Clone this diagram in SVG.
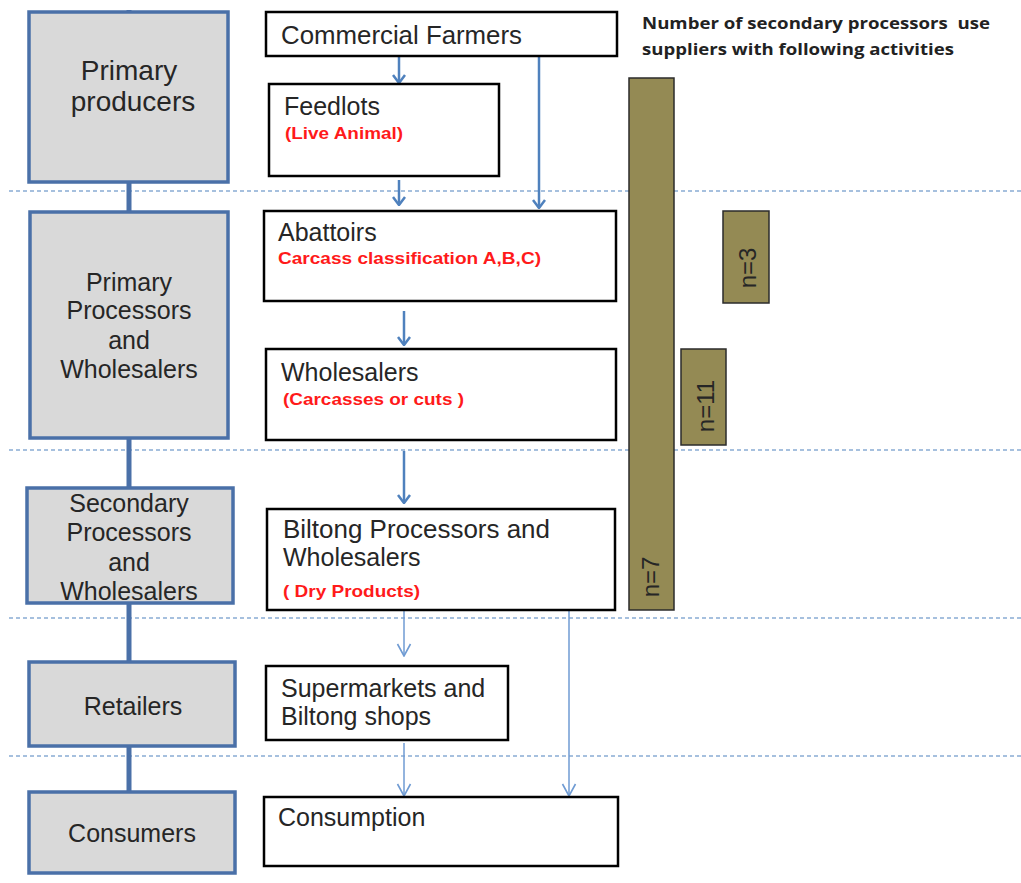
<svg xmlns="http://www.w3.org/2000/svg" width="1021" height="883" viewBox="0 0 1021 883">
  <defs>
    <style>
      .stage { fill: #d9d9d9; stroke: #4a70a8; stroke-width: 3.5; }
      .box { fill: #ffffff; stroke: #000000; stroke-width: 2.5; }
      .bar { fill: #948a54; stroke: #2b2b2b; stroke-width: 1.5; }
      .sep { stroke: #4f81bd; stroke-width: 1.2; stroke-dasharray: 4 3; fill: none; }
      .spine { stroke: #4a70a8; stroke-width: 5; fill: none; }
      .flow { stroke: #4f81bd; stroke-width: 2.5; fill: none; marker-end: url(#chev); }
      .flow-thin { stroke: #6f9bd3; stroke-width: 1.5; fill: none; marker-end: url(#chev-thin); }
      .t { font-family: "Liberation Sans", Arial, sans-serif; fill: #262626; font-size: 25px; }
      .mid { text-anchor: middle; }
      .big { font-size: 28px; }
      .note { font-family: "Liberation Sans", Arial, sans-serif; font-weight: bold; font-size: 17px; fill: #ff1a1a; }
      .head { font-family: "Open Sans", "Liberation Sans", sans-serif; font-weight: bold; font-size: 15.5px; fill: #222222; white-space: pre; }
      .n { font-size: 24px; text-anchor: middle; }
    </style>
    <!-- open chevron heads, drawn along +x so orient="auto" turns them with the line -->
    <marker id="chev" viewBox="0 0 12 14" refX="11" refY="7" markerWidth="12" markerHeight="14" markerUnits="userSpaceOnUse" orient="auto">
      <path d="M3,1 L11,7 L3,13" fill="none" stroke="#4f81bd" stroke-width="2.5"/>
    </marker>
    <marker id="chev-thin" viewBox="0 0 15 16" refX="14" refY="8" markerWidth="15" markerHeight="16" markerUnits="userSpaceOnUse" orient="auto">
      <path d="M2,1.5 L14,8 L2,14.5" fill="none" stroke="#6f9bd3" stroke-width="1.6"/>
    </marker>
  </defs>

  <rect width="1021" height="883" fill="#ffffff"/>

  <!-- stage separators -->
  <g id="separators">
    <line class="sep" x1="9" y1="191" x2="1021" y2="191"/>
    <line class="sep" x1="9" y1="450" x2="1021" y2="450"/>
    <line class="sep" x1="9" y1="618" x2="1021" y2="618"/>
    <line class="sep" x1="9" y1="756" x2="1021" y2="756"/>
  </g>

  <!-- connectors -->
  <g id="connectors">
    <line class="spine" x1="129" y1="10" x2="129" y2="792"/>
    <line class="flow" x1="399" y1="57" x2="399" y2="83"/>
    <line class="flow" x1="399" y1="180" x2="399" y2="205"/>
    <line class="flow" x1="539" y1="57" x2="539" y2="208"/>
    <line class="flow" x1="404" y1="311" x2="404" y2="345"/>
    <line class="flow" x1="404" y1="451" x2="404" y2="503"/>
    <line class="flow-thin" x1="404" y1="611" x2="404" y2="656"/>
    <line class="flow-thin" x1="404" y1="743" x2="404" y2="796"/>
    <line class="flow-thin" x1="569" y1="608" x2="569" y2="796"/>
  </g>

  <!-- left column: chain stages -->
  <g id="stage-primary-producers">
    <rect class="stage" x="29" y="12" width="199" height="170"/>
    <text class="t mid big" x="129" y="80">Primary</text>
    <text class="t mid big" x="133" y="111">producers</text>
  </g>
  <g id="stage-primary-processors">
    <rect class="stage" x="30" y="212" width="198" height="226"/>
    <text class="t mid" x="129" y="291">Primary</text>
    <text class="t mid" x="129" y="319">Processors</text>
    <text class="t mid" x="129" y="349">and</text>
    <text class="t mid" x="129" y="378">Wholesalers</text>
  </g>
  <g id="stage-secondary-processors">
    <rect class="stage" x="27" y="488" width="206" height="115"/>
    <text class="t mid" x="129" y="512">Secondary</text>
    <text class="t mid" x="129" y="541">Processors</text>
    <text class="t mid" x="129" y="571">and</text>
    <text class="t mid" x="129" y="600">Wholesalers</text>
  </g>
  <g id="stage-retailers">
    <rect class="stage" x="29" y="662" width="206" height="84"/>
    <text class="t mid" x="133" y="715">Retailers</text>
  </g>
  <g id="stage-consumers">
    <rect class="stage" x="29" y="792" width="206" height="81"/>
    <text class="t mid" x="132" y="842">Consumers</text>
  </g>

  <!-- right column: activities -->
  <g id="node-commercial-farmers">
    <rect class="box" x="266" y="12" width="351" height="44"/>
    <text class="t" x="281" y="44" textLength="241" lengthAdjust="spacingAndGlyphs">Commercial Farmers</text>
  </g>
  <g id="node-feedlots">
    <rect class="box" x="269" y="84" width="230" height="92"/>
    <text class="t" x="284" y="115">Feedlots</text>
    <text class="note" x="285" y="139" textLength="118" lengthAdjust="spacingAndGlyphs">(Live Animal)</text>
  </g>
  <g id="node-abattoirs">
    <rect class="box" x="264" y="211" width="352" height="90"/>
    <text class="t" x="278" y="241">Abattoirs</text>
    <text class="note" x="278" y="264" textLength="263" lengthAdjust="spacingAndGlyphs">Carcass classification A,B,C)</text>
  </g>
  <g id="node-wholesalers">
    <rect class="box" x="266" y="349" width="350" height="91"/>
    <text class="t" x="281" y="381">Wholesalers</text>
    <text class="note" x="283" y="405" textLength="181" lengthAdjust="spacingAndGlyphs">(Carcasses or cuts )</text>
  </g>
  <g id="node-biltong-processors">
    <rect class="box" x="267" y="509" width="348" height="101"/>
    <text class="t" x="283" y="538" textLength="267" lengthAdjust="spacingAndGlyphs">Biltong Processors and</text>
    <text class="t" x="283" y="566">Wholesalers</text>
    <text class="note" x="283" y="597" textLength="137" lengthAdjust="spacingAndGlyphs">( Dry Products)</text>
  </g>
  <g id="node-supermarkets">
    <rect class="box" x="266" y="666" width="242" height="74"/>
    <text class="t" x="281" y="697">Supermarkets and</text>
    <text class="t" x="281" y="725">Biltong shops</text>
  </g>
  <g id="node-consumption">
    <rect class="box" x="264" y="797" width="354" height="69"/>
    <text class="t" x="278" y="826">Consumption</text>
  </g>

  <!-- supplier activity counts -->
  <g id="counts">
    <text class="head" x="642" y="29" textLength="348" lengthAdjust="spacingAndGlyphs">Number of secondary processors  use</text>
    <text class="head" x="642" y="55" textLength="312" lengthAdjust="spacingAndGlyphs">suppliers with following activities</text>
    <g id="bar-n7">
      <rect class="bar" x="629" y="78" width="45" height="532"/>
      <text class="t n" transform="translate(659,577) rotate(-90)">n=7</text>
    </g>
    <g id="bar-n3">
      <rect class="bar" x="723" y="211" width="46" height="92"/>
      <text class="t n" transform="translate(756,268) rotate(-90)">n=3</text>
    </g>
    <g id="bar-n11">
      <rect class="bar" x="681" y="349" width="45" height="96"/>
      <text class="t n" transform="translate(714,406) rotate(-90)">n=11</text>
    </g>
  </g>
</svg>
